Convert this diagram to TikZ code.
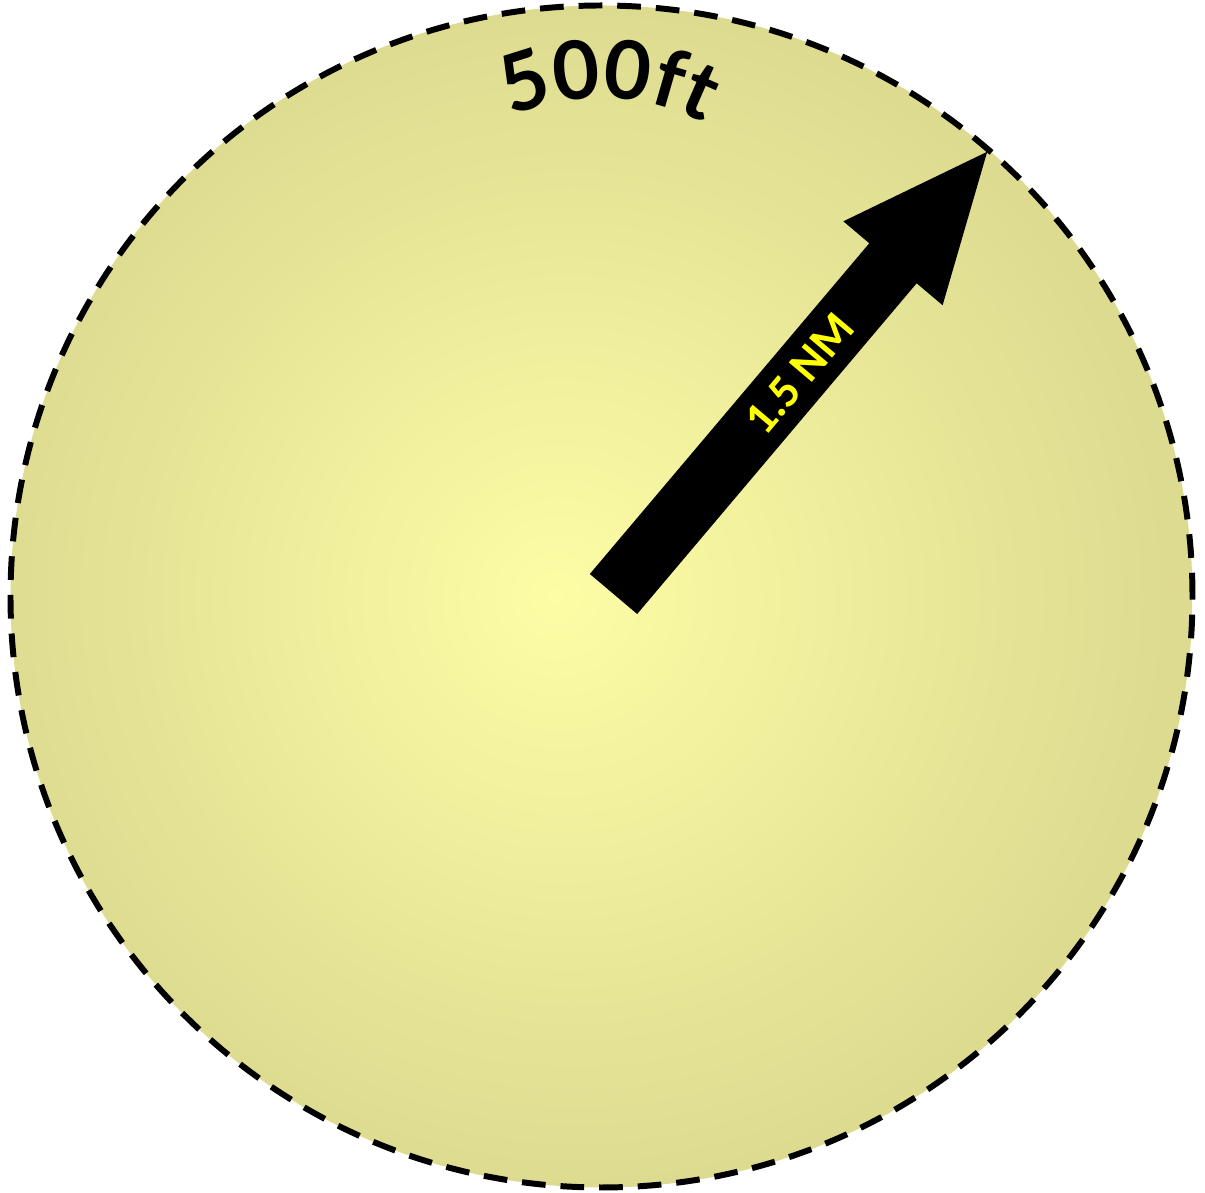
\documentclass[tikz,border=0pt]{standalone}
\usepackage{fontspec}
\usetikzlibrary{decorations.text}
\newfontfamily\labelfont{Carlito}
\newfontfamily\ringfont{Lato}
\definecolor{glowin}{RGB}{253,253,166}
\definecolor{glowout}{RGB}{220,219,144}
\definecolor{labelyellow}{RGB}{255,255,0}
\pgfdeclareradialshading{discglow}{\pgfpoint{-2bp}{0bp}}{color(0bp)=(glowin); color(25bp)=(glowout); color(50bp)=(glowout)}

\begin{document}
\begin{tikzpicture}[x=0.02cm, y=0.02cm,
  ring/.style={draw=black, line width=3.4pt, dash pattern=on 13.5pt off 8.5pt, shading=discglow},
  pointer/.style={fill=black},
  tag/.style={font=\labelfont\bfseries\fontsize{26.5}{26.5}\selectfont, text=labelyellow, inner sep=0pt}]
  \useasboundingbox (0,0) rectangle (1205,1193);
  % Disc with radial glow
  \coordinate (c) at (601.5,596.5);
  \path[ring] (c) circle[radius=591];
  % Arrow from the centre out to the rim
  \begin{scope}[shift={(613.5,599)}, rotate=49.8]
    \fill[pointer] (0,-31) -- (433,-31) -- (433,-65) -- (579,0) -- (433,65) -- (433,31) -- (0,31) -- cycle;
    \node[tag, rotate=49.8] (dist) at (288,0) {1.5 NM};
  \end{scope}
  % Altitude label bent along an arc
  \path[decorate, decoration={text along path, text align=center,
    text={|\ringfont\bfseries\fontsize{46}{46}\selectfont|500ft}}]
    (600,870) ++(118:225) arc[start angle=118, end angle=58, radius=225];
\end{tikzpicture}
\end{document}
